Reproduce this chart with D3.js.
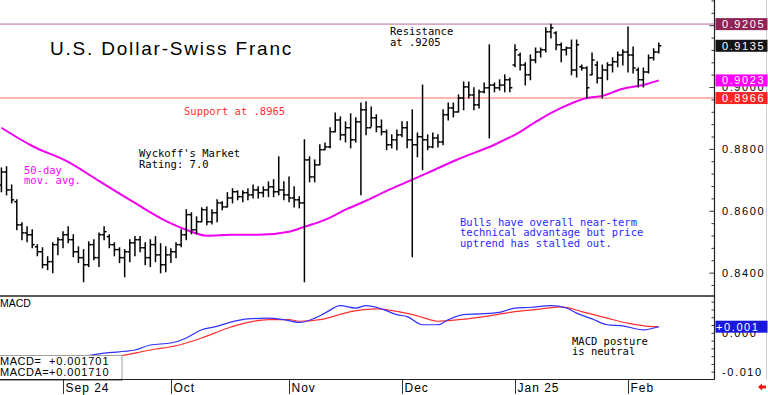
<!DOCTYPE html>
<html>
<head>
<meta charset="utf-8">
<script src="https://cdn.jsdelivr.net/npm/d3@7"></script>
<style>
  body { margin: 0; background: #fff; }
  svg { display: block; }
  text { font-family: "Liberation Sans", Arial, sans-serif; }
  .mono { font-family: "DejaVu Sans Mono", monospace; font-size: 10.5px; }
</style>
</head>
<body>
<svg id="chart" width="768" height="395"></svg>
<script>
// daily bars, mid-Aug 2024 .. Feb 11 2025 (one entry per trading day)
const highs = [
  .8740, .8744, .8685, .8637, .8563, .8550, .8540, .8492, .8482, .8453,
  .8498, .8514, .8534, .8550, .8524, .8485, .8476, .8501, .8508, .8530,
  .8550, .8524, .8498, .8482, .8476, .8508, .8518, .8518, .8498, .8508,
  .8518, .8495, .8485, .8479, .8498, .8540, .8605, .8595, .8582, .8611,
  .8614, .8605, .8637, .8631, .8660, .8673, .8666, .8666, .8673, .8685,
  .8679, .8679, .8695, .8702, .8776, .8695, .8711, .8679, .8647, .8831,
  .8776, .8766, .8815, .8821, .8870, .8918, .8905, .8889, .8915, .8902,
  .8950, .8954, .8937, .8912, .8895, .8863, .8847, .8863, .8889, .8889,
  .8928, .8853, .9008, .8847, .8853, .8847, .8928, .8950, .8950, .8976,
  .9018, .9018, .8999, .8992, .9015, .9138, .9015, .9025, .9041, .9031,
  .9138, .9112, .9080, .9105, .9128, .9128, .9193, .9205, .9180, .9144,
  .9131, .9154, .9154, .9073, .9067, .9112, .9083, .9073, .9080, .9096,
  .9115, .9122, .9196, .9131, .9063, .9063, .9105, .9125, .9144
];
const lows = [
  .8663, .8653, .8627, .8540, .8508, .8501, .8482, .8456, .8417, .8411,
  .8401, .8459, .8482, .8498, .8453, .8434, .8372, .8421, .8443, .8421,
  .8508, .8482, .8456, .8434, .8388, .8437, .8456, .8469, .8427, .8421,
  .8437, .8401, .8404, .8434, .8450, .8485, .8508, .8527, .8527, .8566,
  .8556, .8559, .8566, .8605, .8614, .8627, .8637, .8631, .8637, .8643,
  .8643, .8647, .8647, .8647, .8653, .8637, .8631, .8614, .8611, .8372,
  .8695, .8695, .8750, .8799, .8805, .8857, .8831, .8824, .8805, .8824,
  .8653, .8847, .8873, .8857, .8847, .8799, .8805, .8799, .8841, .8805,
  .8453, .8776, .8734, .8799, .8805, .8808, .8815, .8895, .8905, .8921,
  .8928, .8966, .8928, .8934, .8983, .8837, .8986, .8992, .8986, .8986,
  .9067, .9057, .9008, .9025, .9080, .9099, .9115, .9160, .9122, .9083,
  .9105, .9041, .9034, .9057, .8966, .9041, .9015, .8966, .9025, .9050,
  .9067, .9073, .9050, .9047, .9002, .9002, .9047, .9089, .9112
];
const opens = [
  .8685, .8727, .8669, .8631, .8556, .8530, .8524, .8485, .8469, .8427,
  .8437, .8492, .8508, .8524, .8508, .8469, .8450, .8427, .8492, .8450,
  .8524, .8518, .8492, .8476, .8450, .8469, .8498, .8508, .8482, .8450,
  .8492, .8459, .8427, .8459, .8469, .8492, .8524, .8589, .8540, .8566,
  .8605, .8566, .8595, .8627, .8614, .8643, .8663, .8647, .8660, .8653,
  .8669, .8660, .8669, .8679, .8663, .8669, .8653, .8643, .8637, .8627,
  .8766, .8711, .8750, .8799, .8808, .8857, .8895, .8847, .8870, .8831,
  .8889, .8928, .8870, .8902, .8873, .8857, .8815, .8831, .8847, .8870,
  .8831, .8815, .8841, .8831, .8808, .8837, .8824, .8912, .8934, .8921,
  .8966, .9002, .8976, .8944, .8986, .8999, .9008, .8999, .9008, .9025,
  .9073, .9105, .9073, .9041, .9089, .9115, .9122, .9180, .9176, .9138,
  .9122, .9128, .9057, .9067, .9063, .9041, .9073, .9031, .9057, .9073,
  .9083, .9105, .9115, .9105, .9057, .9025, .9050, .9096, .9115
];
const closes = [
  .8727, .8669, .8637, .8556, .8530, .8524, .8492, .8469, .8427, .8437,
  .8492, .8508, .8524, .8508, .8469, .8450, .8427, .8492, .8450, .8524,
  .8534, .8492, .8476, .8450, .8469, .8498, .8508, .8482, .8450, .8492,
  .8459, .8427, .8459, .8469, .8492, .8524, .8589, .8540, .8566, .8605,
  .8566, .8595, .8627, .8614, .8643, .8663, .8647, .8660, .8653, .8669,
  .8660, .8669, .8679, .8663, .8669, .8653, .8643, .8637, .8627, .8766,
  .8711, .8750, .8799, .8808, .8857, .8895, .8847, .8870, .8831, .8889,
  .8928, .8870, .8902, .8873, .8857, .8815, .8831, .8847, .8870, .8831,
  .8815, .8841, .8831, .8808, .8837, .8824, .8912, .8934, .8921, .8966,
  .9002, .8976, .8944, .8986, .8999, .9008, .8999, .9008, .9025, .8999,
  .9122, .9073, .9041, .9089, .9115, .9122, .9180, .9193, .9138, .9122,
  .9128, .9057, .9138, .9063, .8999, .9089, .9031, .9057, .9073, .9083,
  .9105, .9115, .9105, .9063, .9025, .9050, .9096, .9115, .9135
];

// 50-day moving average, read at some bar indexes
const maIdx  = [0, 6, 13, 19, 26, 32, 36, 40, 45, 50, 56, 59, 63, 67, 71, 75, 79, 83, 89, 96, 101, 105, 109, 114, 117, 121, 125, 128];
const maVals = [.8870, .8811, .8760, .8698, .8627, .8569, .8540, .8521, .8524, .8524, .8534, .8550, .8572, .8605, .8634, .8666, .8695, .8724, .8769, .8815, .8857, .8899, .8934, .8966, .8973, .8996, .9008, .9023];

// MACD (blue) and its average (red)
const macdIdx  = [0, 10, 20, 26, 29, 33, 36, 39, 42, 45, 48, 52, 55, 58, 61, 63, 66, 69, 71, 74, 77, 79, 82, 85, 87, 90, 93, 97, 100, 103, 107, 110, 112, 115, 118, 121, 125, 128];
const macdVals = [-.0089, -.0074, -.0051, -.0043, -.0030, -.0025, -.0012, .0009, .0018, .0030, .0037, .0039, .0035, .0028, .0039, .0052, .0071, .0065, .0071, .0063, .0048, .0043, .0022, .0022, .0035, .0048, .0050, .0054, .0065, .0067, .0071, .0065, .0052, .0037, .0022, .0019, .0009, .0017];
const sigIdx  = [0, 12, 24, 29, 34, 39, 44, 48, 52, 56, 58, 62, 65, 68, 73, 78, 81, 85, 89, 95, 100, 104, 109, 113, 118, 122, 126, 128];
const sigVals = [-.0094, -.0079, -.0056, -.0043, -.0032, -.0012, .0013, .0028, .0035, .0035, .0031, .0035, .0045, .0056, .0063, .0054, .0045, .0031, .0035, .0045, .0056, .0061, .0068, .0056, .0039, .0026, .0018, .0017];

const monthIdx = [12, 33, 56, 78, 100, 122];
const monthLabels = ['Sep 24', 'Oct', 'Nov', 'Dec', 'Jan 25', 'Feb'];
const priceTicks = [0.9000, 0.8800, 0.8600, 0.8400];
const macdTicks = [0.000, -0.010];
const resistance = 0.9205;
const support = 0.8966;
const lastMacd = 0.001701;
const lastMacda = 0.001710;

const svg = d3.select('#chart');
const axisX = 714.5;

const x = d3.scaleLinear().domain([0, 128]).range([1.4, 658.8]);
const y = d3.scaleLinear().domain([0.8326, 0.9283]).range([296, 0]);
const ym = d3.scaleLinear().domain([-0.0115, 0.0096]).range([378, 296]);

svg.append('rect').attr('width', 768).attr('height', 395).attr('fill', '#fff');

const defs = svg.append('defs');
defs.append('clipPath').attr('id', 'cp-main').append('rect').attr('x', 0).attr('y', 0).attr('width', axisX).attr('height', 296);
defs.append('clipPath').attr('id', 'cp-macd').append('rect').attr('x', 0).attr('y', 296).attr('width', axisX).attr('height', 83);

const main = svg.append('g').attr('clip-path', 'url(#cp-main)');

// resistance / support
main.append('line').attr('x1', 0).attr('x2', axisX).attr('y1', y(resistance)).attr('y2', y(resistance))
  .attr('stroke', '#d8a8c8').attr('stroke-width', 1.6);
main.append('line').attr('x1', 0).attr('x2', axisX).attr('y1', y(support)).attr('y2', y(support))
  .attr('stroke', '#ff6a6a').attr('stroke-width', 1.1);

// title and notes
svg.append('text').attr('x', 50).attr('y', 55).attr('font-size', 19).attr('letter-spacing', 1.8)
  .attr('fill', '#000').text('U.S. Dollar-Swiss Franc');

function note(lines, x0, y0, colour, step = 10.6) {
  const t = svg.append('text').attr('class', 'mono').attr('fill', colour);
  lines.forEach((s, i) => {
    t.append('tspan').attr('x', x0).attr('y', y0 + i * step).text(s);
  });
}
note(['Resistance', 'at .9205'], 390, 35, '#000');
note(['Support at .8965'], 184, 114.5, '#ff3030');
note(["Wyckoff's Market", 'Rating: 7.0'], 139, 157, '#000');
note(['50-day', 'mov. avg.'], 24, 173.5, '#ff00ff');
note(['Bulls have overall near-term', 'technical advantage but price', 'uptrend has stalled out.'], 460, 225.5, '#2a2aff');

// moving average
main.append('path')
  .attr('d', d3.line().x(d => x(d[0])).y(d => y(d[1])).curve(d3.curveMonotoneX)(maIdx.map((d, i) => [d, maVals[i]])))
  .attr('fill', 'none').attr('stroke', '#f000f0').attr('stroke-width', 2);

// OHLC bars
const bars = main.append('g').attr('stroke', '#000').attr('stroke-width', 1.5);
highs.forEach((h, i) => {
  const cx = x(i);
  bars.append('line').attr('x1', cx).attr('x2', cx).attr('y1', y(h) - 0.5).attr('y2', y(lows[i]) + 0.5);
  bars.append('line').attr('x1', cx - 2.5).attr('x2', cx).attr('y1', y(opens[i])).attr('y2', y(opens[i]));
  bars.append('line').attr('x1', cx).attr('x2', cx + 2.5).attr('y1', y(closes[i])).attr('y2', y(closes[i]));
});

// MACD panel
const macdG = svg.append('g').attr('clip-path', 'url(#cp-macd)');
const lm = d3.line().x(d => x(d[0])).y(d => ym(d[1])).curve(d3.curveMonotoneX);
macdG.append('path').attr('d', lm(sigIdx.map((d, i) => [d, sigVals[i]])))
  .attr('fill', 'none').attr('stroke', '#ff3030').attr('stroke-width', 1.2);
macdG.append('path').attr('d', lm(macdIdx.map((d, i) => [d, macdVals[i]])))
  .attr('fill', 'none').attr('stroke', '#3030ff').attr('stroke-width', 1.2);

svg.append('text').attr('x', 0).attr('y', 307).attr('font-size', 10.5).attr('fill', '#000').text('MACD');
note(['MACD posture', 'is neutral'], 572, 344.5, '#000');

// value box
svg.append('rect').attr('x', -1).attr('y', 355.5).attr('width', 123).attr('height', 25)
  .attr('fill', '#fff').attr('stroke', '#a0a0a0');
const fmt = d3.format('+.6f');
[['MACD=', lastMacd], ['MACDA=', lastMacda]].forEach((r, i) => {
  svg.append('text').attr('x', 0).attr('y', 365 + i * 11.3).attr('font-size', 11).attr('letter-spacing', 0.5).text(r[0]);
  svg.append('text').attr('x', 49).attr('y', 365 + i * 11.3).attr('font-size', 11).attr('letter-spacing', 0.9).text(fmt(r[1]));
});

// frame
svg.append('line').attr('x1', 0).attr('x2', axisX).attr('y1', 296).attr('y2', 296).attr('stroke', '#222').attr('stroke-width', 1.5);
svg.append('line').attr('x1', 0).attr('x2', axisX).attr('y1', 379.5).attr('y2', 379.5).attr('stroke', '#222').attr('stroke-width', 1.2);
svg.append('line').attr('x1', axisX).attr('x2', axisX).attr('y1', 0).attr('y2', 380).attr('stroke', '#222').attr('stroke-width', 1.2);
svg.append('line').attr('x1', 766.5).attr('x2', 766.5).attr('y1', 0).attr('y2', 380).attr('stroke', '#d0d0d0');

// right axis ticks
const tickG = svg.append('g').attr('stroke', '#333').attr('stroke-width', 1);
d3.range(0.836, 0.9281, 0.004).forEach(v => {
  const major = Math.abs(Math.round(v * 50) - v * 50) < 1e-6;
  tickG.append('line').attr('x1', axisX - (major ? 5 : 3)).attr('x2', axisX).attr('y1', y(v)).attr('y2', y(v));
});
d3.range(-0.010, 0.0081, 0.002).forEach(v => {
  tickG.append('line').attr('x1', axisX - 3).attr('x2', axisX).attr('y1', ym(v)).attr('y2', ym(v));
});

const axisText = (txt, yy, colour) => svg.append('text').attr('x', 722).attr('y', yy)
  .attr('dy', '0.36em').attr('font-size', 11).attr('letter-spacing', 1.6).attr('fill', colour).text(txt);
priceTicks.forEach(v => axisText(d3.format('.4f')(v), y(v), '#000'));
macdTicks.forEach(v => axisText(d3.format('.3f')(v).replace('−', '-'), ym(v), '#000'));

// coloured value boxes
const valueBoxes = [
  [resistance, '#8e2356', y],
  [closes[closes.length - 1], '#141414', y],
  [maVals[maVals.length - 1], '#ff00ff', y],
  [support, '#ff2424', y]
];
valueBoxes.forEach(([v, c, sc]) => {
  svg.append('rect').attr('x', 715.5).attr('y', sc(v) - 6).attr('width', 52).attr('height', 12).attr('fill', c);
  axisText(d3.format('.4f')(v), sc(v), '#fff');
});
svg.append('rect').attr('x', 715.5).attr('y', ym(lastMacd) - 6).attr('width', 52).attr('height', 12).attr('fill', '#1818e0');
svg.append('text').attr('x', 716).attr('y', ym(lastMacd)).attr('dy', '0.36em').attr('font-size', 11)
  .attr('letter-spacing', 1.6).attr('fill', '#fff').text('+' + d3.format('.3f')(Math.floor(lastMacd * 1000) / 1000));

// month axis
monthIdx.forEach((m, i) => {
  const mx = Math.round(x(m)) + 0.5;
  svg.append('line').attr('x1', mx).attr('x2', mx).attr('y1', 380).attr('y2', 394).attr('stroke', '#333');
  svg.append('text').attr('x', mx + 2).attr('y', 392).attr('font-size', 12).attr('letter-spacing', 1)
    .attr('fill', '#000').text(monthLabels[i]);
});

// small red arrow bottom right
svg.append('path').attr('d', 'M758,387 L762,383.5 L762,385.5 L766,385.5 L766,388.5 L762,388.5 L762,390.5 Z').attr('fill', '#ff1010');
</script>
</body>
</html>
